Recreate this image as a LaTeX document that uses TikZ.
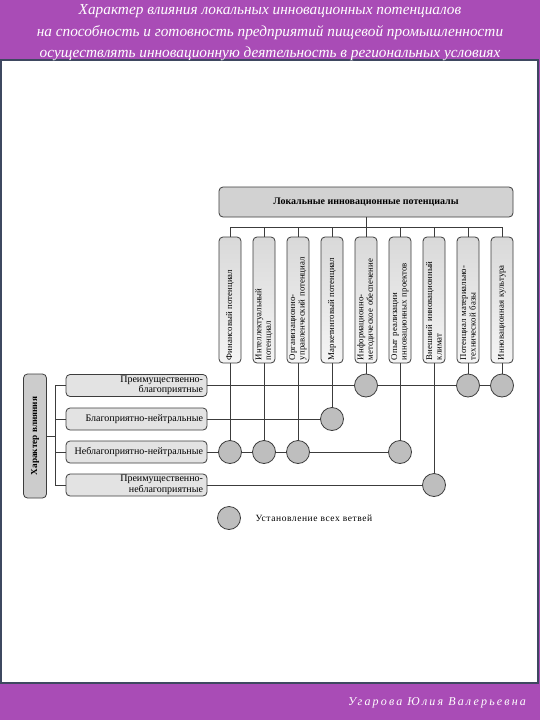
\documentclass[tikz,border=0pt]{standalone}
\usepackage{fontspec}
\setmainfont{Liberation Serif}
\newfontfamily\footfont[LetterSpace=18.0]{Liberation Serif}
\newfontfamily\legendfont[LetterSpace=6.0]{Liberation Serif}
\usepackage{tikz}
\usetikzlibrary{calc,positioning,shapes}
\definecolor{purplebg}{RGB}{169,76,182}
\definecolor{panelline}{RGB}{62,72,96}
\definecolor{linkgray}{RGB}{60,60,60}
\definecolor{dotgray}{RGB}{190,190,190}

\begin{document}
\begin{tikzpicture}[x=1pt,y=-1pt]
	    \tikzstyle{topbox}=[draw=linkgray,thick,rounded corners=4pt,fill=gray!35,minimum width=294pt,minimum height=30pt,font=\fontsize{10}{12}\selectfont\bfseries]
	    \tikzstyle{colbox}=[draw=linkgray,thick,rounded corners=4pt,left color=gray!30,right color=gray!8,shading angle=0,rotate=90,minimum width=126pt,minimum height=22pt,inner sep=1pt,text width=120pt,align=left,font=\fontsize{8.8}{9.5}\selectfont]
	    \tikzstyle{rowbox}=[draw=linkgray,thick,rounded corners=4pt,fill=gray!22,minimum width=141pt,minimum height=22pt,inner sep=1pt,text width=133pt,align=right,font=\fontsize{10}{10.5}\selectfont]
	    \tikzstyle{sidebox}=[draw=linkgray,thick,rounded corners=4pt,fill=gray!40,rotate=90,minimum width=124pt,minimum height=23pt,font=\fontsize{9.2}{11}\selectfont\bfseries]
	    \tikzstyle{dot}=[draw=linkgray,thick,circle,fill=dotgray,minimum size=23pt,inner sep=0pt]
	    \tikzstyle{link}=[draw=linkgray,thick]

	    % page
	    \useasboundingbox (0,0) rectangle (540,720);
	    \fill[purplebg] (0,0) rectangle (540,720);
	    \draw[fill=white,draw=panelline,line width=1.2pt] (1,60) rectangle (538,683);

	    \node[text=white,align=center,font=\fontsize{15.3}{21.5}\selectfont\itshape] (title) at (270,33) {Характер влияния локальных инновационных потенциалов\\на способность и готовность предприятий пищевой промышленности\\осуществлять инновационную деятельность в региональных условиях};
	    \node[text=white,font=\footfont\fontsize{12}{14}\selectfont\itshape] (author) at (437,703) {Угарова Юлия Валерьевна};

	    % potentials
	    \node[topbox] (lip) at (366,202) {Локальные инновационные потенциалы};

	    \node[colbox] (c1) at (230,300) {Финансовый потенциал};
	    \node[colbox] (c2) at (264,300) {Интеллектуальный\\потенциал};
	    \node[colbox] (c3) at (298,300) {Организационно-\\управленческий потенциал};
	    \node[colbox] (c4) at (332,300) {Маркетинговый потенциал};
	    \node[colbox] (c5) at (366,300) {Информационно-\\методическое обеспечение};
	    \node[colbox] (c6) at (400,300) {Опыт реализации\\инновационных проектов};
	    \node[colbox] (c7) at (434,300) {Внешний инновационный\\климат};
	    \node[colbox] (c8) at (468,300) {Потенциал материально-\\технической базы};
	    \node[colbox] (c9) at (502,300) {Инновационная культура};

	    \coordinate (bus) at (366,228);
	    \draw[link] (lip) -- (bus);
	    \draw[link] (c1.east) -- ++(0,-9) -| (c9.east);
	    \draw[link] (c2.east) -- (c2.east |- bus);
	    \draw[link] (c3.east) -- (c3.east |- bus);
	    \draw[link] (c4.east) -- (c4.east |- bus);
	    \draw[link] (c5.east) -- (c5.east |- bus);
	    \draw[link] (c6.east) -- (c6.east |- bus);
	    \draw[link] (c7.east) -- (c7.east |- bus);
	    \draw[link] (c8.east) -- (c8.east |- bus);

	    % character of influence
	    \node[sidebox] (hv) at (35,436) {Характер влияния};
	    \node[rowbox] (r1) at (136.5,385.5) {Преимущественно-\\благоприятные};
	    \node[rowbox] (r2) at (136.5,419) {Благоприятно-нейтральные};
	    \node[rowbox] (r3) at (136.5,452) {Неблагоприятно-нейтральные};
	    \node[rowbox] (r4) at (136.5,485) {Преимущественно-\\неблагоприятные};

	    \coordinate (sp) at (55,436);
	    \draw[link] (hv.south) -- (sp);
	    \draw[link] (r1.west) -| (sp);
	    \draw[link] (r2.west) -| (sp);
	    \draw[link] (r3.west) -| (sp);
	    \draw[link] (r4.west) -| (sp);

	    % links
	    \node[dot] (n15) at (366,385.5) {};
	    \node[dot] (n18) at (468,385.5) {};
	    \node[dot] (n19) at (502,385.5) {};
	    \node[dot] (n24) at (332,419) {};
	    \node[dot] (n31) at (230,452) {};
	    \node[dot] (n32) at (264,452) {};
	    \node[dot] (n33) at (298,452) {};
	    \node[dot] (n36) at (400,452) {};
	    \node[dot] (n47) at (434,485) {};

	    \draw[link] (r1.east) -- (n15) -- (n18) -- (n19);
	    \draw[link] (r2.east) -- (n24);
	    \draw[link] (r3.east) -- (n31) -- (n32) -- (n33) -- (n36);
	    \draw[link] (r4.east) -- (n47);

	    \draw[link] (c1.west) -- (n31);
	    \draw[link] (c2.west) -- (n32);
	    \draw[link] (c3.west) -- (n33);
	    \draw[link] (c4.west) -- (n24);
	    \draw[link] (c5.west) -- (n15);
	    \draw[link] (c6.west) -- (n36);
	    \draw[link] (c7.west) -- (n47);
	    \draw[link] (c8.west) -- (n18);
	    \draw[link] (c9.west) -- (n19);

	    % legend
	    \node[dot] (nl) at (229,518) {};
	    \node[anchor=west,font=\legendfont\fontsize{9.5}{11}\selectfont] (legend) at (252,518) {Установление всех ветвей};
    
\end{tikzpicture}
\end{document}
